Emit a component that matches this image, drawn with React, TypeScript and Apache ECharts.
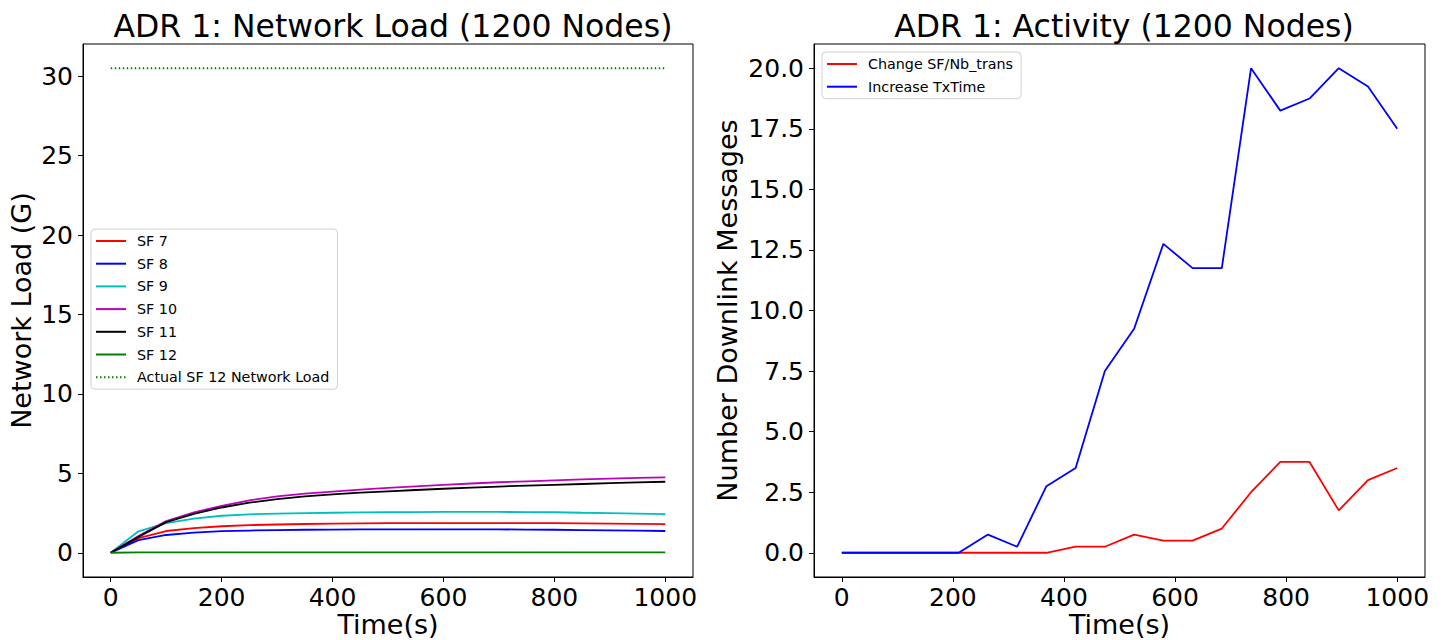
import React, { useEffect, useRef } from "react";
import * as echarts from "echarts";

const loadTimes = [0, 50, 100, 150, 200, 250, 300, 350, 400, 450, 500, 550, 600, 650, 700, 750, 800, 850, 900, 950, 1000];
const sf7 = [0, 0.92, 1.37, 1.55, 1.67, 1.74, 1.78, 1.81, 1.83, 1.85, 1.86, 1.87, 1.87, 1.87, 1.87, 1.87, 1.86, 1.85, 1.84, 1.82, 1.8];
const sf8 = [0, 0.8, 1.12, 1.27, 1.36, 1.4, 1.43, 1.45, 1.46, 1.47, 1.47, 1.47, 1.47, 1.47, 1.47, 1.46, 1.45, 1.43, 1.41, 1.39, 1.37];
const sf9 = [0, 1.35, 1.87, 2.15, 2.33, 2.42, 2.47, 2.5, 2.52, 2.54, 2.55, 2.56, 2.57, 2.57, 2.57, 2.56, 2.55, 2.52, 2.5, 2.47, 2.43];
const sf10 = [0, 1.05, 2.0, 2.55, 2.95, 3.3, 3.55, 3.72, 3.85, 3.97, 4.08, 4.18, 4.28, 4.36, 4.44, 4.5, 4.56, 4.62, 4.67, 4.71, 4.74];
const sf11 = [0, 1.0, 1.93, 2.45, 2.85, 3.15, 3.38, 3.55, 3.68, 3.78, 3.87, 3.95, 4.03, 4.1, 4.17, 4.23, 4.28, 4.33, 4.38, 4.43, 4.47];
const sf12 = [0, 0.02, 0.02, 0.02, 0.02, 0.02, 0.02, 0.02, 0.02, 0.02, 0.02, 0.02, 0.02, 0.02, 0.02, 0.02, 0.02, 0.02, 0.02, 0.02, 0.02];
const actualSf12Times = [0, 1000];
const actualSf12 = [30.5, 30.5];

const activityTimes = [0, 52.63, 105.26, 157.89, 210.53, 263.16, 315.79, 368.42, 421.05, 473.68, 526.32, 578.95, 631.58, 684.21, 736.84, 789.47, 842.11, 894.74, 947.37, 1000];
const changeSf = [0, 0, 0, 0, 0, 0, 0, 0, 0.25, 0.25, 0.75, 0.5, 0.5, 1, 2.5, 3.75, 3.75, 1.75, 3, 3.5];
const increaseTx = [0, 0, 0, 0, 0, 0.75, 0.25, 2.75, 3.5, 7.5, 9.25, 12.75, 11.75, 11.75, 20, 18.25, 18.75, 20, 19.25, 17.5];

const timeTicks = [0, 200, 400, 600, 800, 1000];
const loadTicks = [0, 5, 10, 15, 20, 25, 30];
const msgTicks = [0, 2.5, 5, 7.5, 10, 12.5, 15, 17.5, 20];

const FONT = "DejaVu Sans";

const pairs = (xs: number[], ys: number[]) => xs.map((x, i) => [x, ys[i]]);

export default function App() {
  const ref = useRef<HTMLDivElement>(null);
  useEffect(() => {
    if (!ref.current) return;
    const chart = echarts.init(ref.current, null, { renderer: "svg" });
    const axisCommon = {
      splitLine: { show: false },
      axisLine: { show: true, onZero: false, lineStyle: { color: "#000", width: 1 } },
      axisTick: { show: true, inside: false, length: 5, lineStyle: { color: "#000" } },
      nameTextStyle: { fontFamily: FONT, fontSize: 27, color: "#000" },
      nameMoveOverlap: false,
    };
    const xAxis = (gi: number) => ({
      ...axisCommon,
      type: "value",
      gridIndex: gi,
      min: -50,
      max: 1050,
      name: "Time(s)",
      nameLocation: "middle",
      nameGap: 34,
      axisTick: { ...axisCommon.axisTick, customValues: timeTicks },
      axisLabel: { customValues: timeTicks, fontFamily: FONT, fontSize: 25, color: "#000", margin: 8, formatter: (v: number) => String(v) },
    });
    const line = (name: string, color: string, xs: number[], ys: number[], gi: number, dashed = false) => ({
      type: "line",
      name,
      xAxisIndex: gi,
      yAxisIndex: gi,
      data: pairs(xs, ys),
      symbol: "none",
      showSymbol: false,
      lineStyle: { color, width: 1.8, type: dashed ? [1.5, 2.5] : "solid" },
      itemStyle: { color },
      z: 3,
    });
    const legendCommon = {
      orient: "vertical",
      itemWidth: 30,
      itemHeight: 14,
      itemGap: 8.7,
      backgroundColor: "rgba(255,255,255,0.8)",
      borderColor: "#d0d0d0",
      borderWidth: 1,
      borderRadius: 4,
      padding: [5, 8, 5, 4],
      itemStyle: { opacity: 0 },
      textStyle: { fontFamily: FONT, fontSize: 14.3, color: "#000", padding: [0, 0, 0, 6] },
      selectedMode: false,
    };
    const gridCommon = { top: 44, height: 533, show: true, borderColor: "#000", borderWidth: 1, backgroundColor: "transparent", outerBoundsMode: "none", containLabel: false };
    chart.setOption({
      animation: false,
      backgroundColor: "#fff",
      title: [
        { text: "ADR 1: Network Load (1200 Nodes)", left: 388, top: 5, textAlign: "center", textStyle: { fontFamily: FONT, fontSize: 31.5, fontWeight: "normal", color: "#000" } },
        { text: "ADR 1: Activity (1200 Nodes)", left: 1119, top: 5, textAlign: "center", textStyle: { fontFamily: FONT, fontSize: 31.5, fontWeight: "normal", color: "#000" } },
      ],
      grid: [
        { ...gridCommon, left: 83, width: 610 },
        { ...gridCommon, left: 814, width: 611 },
      ],
      xAxis: [xAxis(0), xAxis(1)],
      yAxis: [
        {
          ...axisCommon,
          type: "value",
          gridIndex: 0,
          min: -1.525,
          max: 32.025,
          name: "Network Load (G)",
          nameLocation: "middle",
          nameGap: 48,
          axisTick: { ...axisCommon.axisTick, customValues: loadTicks },
          axisLabel: { customValues: loadTicks, fontFamily: FONT, fontSize: 25, color: "#000", margin: 10 },
        },
        {
          ...axisCommon,
          type: "value",
          gridIndex: 1,
          min: -1,
          max: 21,
          name: "Number Downlink Messages",
          nameLocation: "middle",
          nameGap: 73,
          axisTick: { ...axisCommon.axisTick, customValues: msgTicks },
          axisLabel: { customValues: msgTicks, fontFamily: FONT, fontSize: 25, color: "#000", margin: 10, formatter: (v: number) => v.toFixed(1) },
        },
      ],
      legend: [
        {
          ...legendCommon,
          left: 91,
          top: 229,
          data: ["SF 7", "SF 8", "SF 9", "SF 10", "SF 11", "SF 12", "Actual SF 12 Network Load"],
        },
        {
          ...legendCommon,
          left: 822,
          top: 52,
          data: ["Change SF/Nb_trans", "Increase TxTime"],
        },
      ],
      series: [
        line("SF 7", "#ff0000", loadTimes, sf7, 0),
        line("SF 8", "#0000ff", loadTimes, sf8, 0),
        line("SF 9", "#00bfbf", loadTimes, sf9, 0),
        line("SF 10", "#bf00bf", loadTimes, sf10, 0),
        line("SF 11", "#000000", loadTimes, sf11, 0),
        line("SF 12", "#008000", loadTimes, sf12, 0),
        line("Actual SF 12 Network Load", "#008000", actualSf12Times, actualSf12, 0, true),
        line("Change SF/Nb_trans", "#ff0000", activityTimes, changeSf, 1),
        line("Increase TxTime", "#0000ff", activityTimes, increaseTx, 1),
      ],
    });
    return () => chart.dispose();
  }, []);
  return <div ref={ref} style={{ position: "fixed", left: 0, top: 0, width: 1445, height: 640 }} />;
}
